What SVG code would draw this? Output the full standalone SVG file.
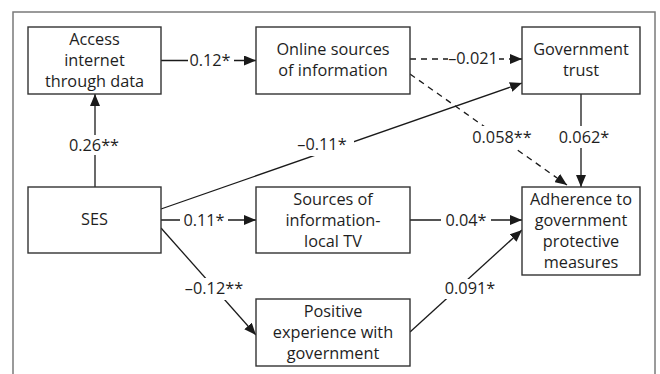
<svg xmlns="http://www.w3.org/2000/svg" width="660" height="374" viewBox="0 0 660 374">
  <defs>
    <marker id="arrow" viewBox="0 0 12 10" refX="12" refY="5" markerWidth="12" markerHeight="10" markerUnits="userSpaceOnUse" orient="auto">
      <path d="M0,0 L12,5 L0,10 Z" fill="#1a1a1a"/>
    </marker>
    <style>
      .frame { fill: #ffffff; stroke: #7a7a7a; stroke-width: 1.5; }
      .box { fill: #ffffff; stroke: #333333; stroke-width: 1.4; }
      .label { font-family: "Open Sans", "Liberation Sans", sans-serif; font-size: 16.3px; fill: #1e1e1e; text-anchor: middle; }
      .edge { fill: none; stroke: #1a1a1a; stroke-width: 1.3; }
      .dash { stroke-dasharray: 6 5; }
      .coef { font-family: "Open Sans", "Liberation Sans", sans-serif; font-size: 16.3px; fill: #1e1e1e; text-anchor: middle; }
      .gap { fill: #ffffff; }
    </style>
  </defs>

  <rect width="660" height="374" fill="#ffffff"/>
  <rect class="frame" x="13" y="12" width="642" height="380"/>

  <g id="connectors">
    <!-- SES -> Access internet -->
    <line class="edge" x1="95" y1="187" x2="95" y2="94" marker-end="url(#arrow)"/>
    <rect class="gap" x="65" y="135" width="58" height="20"/>
    <text class="coef" x="94" y="151">0.26**</text>

    <!-- Access internet -> Online sources -->
    <line class="edge" x1="161" y1="60.5" x2="256" y2="60.5" marker-end="url(#arrow)"/>
    <rect class="gap" x="188" y="50" width="46" height="20"/>
    <text class="coef" x="210" y="66">0.12*</text>

    <!-- Online sources -> Government trust (dashed) -->
    <line class="edge dash" x1="410" y1="59" x2="522" y2="59" marker-end="url(#arrow)"/>
    <rect class="gap" x="448" y="48" width="51" height="20"/>
    <text class="coef" x="473" y="64">–0.021</text>

    <!-- Online sources -> Adherence (dashed) -->
    <line class="edge dash" x1="410" y1="74" x2="567" y2="185" marker-end="url(#arrow)"/>
    <rect class="gap" x="469" y="126" width="66" height="22"/>
    <text class="coef" x="502" y="143">0.058**</text>

    <!-- SES -> Government trust -->
    <line class="edge" x1="161" y1="209" x2="522" y2="83" marker-end="url(#arrow)"/>
    <rect class="gap" x="292" y="134" width="62" height="22"/>
    <text class="coef" x="322" y="150">–0.11*</text>

    <!-- Government trust -> Adherence -->
    <line class="edge" x1="581" y1="94" x2="581" y2="187" marker-end="url(#arrow)"/>
    <rect class="gap" x="555" y="126" width="58" height="22"/>
    <text class="coef" x="584" y="143">0.062*</text>

    <!-- SES -> Sources of information-local TV -->
    <line class="edge" x1="161" y1="220" x2="256" y2="220" marker-end="url(#arrow)"/>
    <rect class="gap" x="180" y="210" width="48" height="20"/>
    <text class="coef" x="204" y="226">0.11*</text>

    <!-- SES -> Positive experience -->
    <line class="edge" x1="161" y1="228" x2="256" y2="335" marker-end="url(#arrow)"/>
    <rect class="gap" x="181" y="278" width="67" height="22"/>
    <text class="coef" x="214" y="294">–0.12**</text>

    <!-- Sources of information-local TV -> Adherence -->
    <line class="edge" x1="410" y1="220" x2="522" y2="220" marker-end="url(#arrow)"/>
    <rect class="gap" x="441" y="210" width="50" height="20"/>
    <text class="coef" x="466" y="226">0.04*</text>

    <!-- Positive experience -> Adherence -->
    <line class="edge" x1="410" y1="332" x2="522" y2="230" marker-end="url(#arrow)"/>
    <rect class="gap" x="440" y="279" width="60" height="20"/>
    <text class="coef" x="470" y="294">0.091*</text>
  </g>

  <g id="node-access">
    <rect class="box" x="28" y="27" width="133" height="67"/>
    <text class="label" x="94.5" y="45">Access</text>
    <text class="label" x="94.5" y="66">internet</text>
    <text class="label" x="94.5" y="87">through data</text>
  </g>

  <g id="node-online">
    <rect class="box" x="256" y="27" width="154" height="67"/>
    <text class="label" x="333" y="55">Online sources</text>
    <text class="label" x="333" y="76">of information</text>
  </g>

  <g id="node-trust">
    <rect class="box" x="522" y="27" width="118" height="67"/>
    <text class="label" x="581" y="55">Government</text>
    <text class="label" x="581" y="76">trust</text>
  </g>

  <g id="node-ses">
    <rect class="box" x="28" y="187" width="133" height="66"/>
    <text class="label" x="94.5" y="225">SES</text>
  </g>

  <g id="node-localtv">
    <rect class="box" x="256" y="187" width="154" height="66"/>
    <text class="label" x="333" y="205">Sources of</text>
    <text class="label" x="333" y="226">information-</text>
    <text class="label" x="333" y="247">local TV</text>
  </g>

  <g id="node-adherence">
    <rect class="box" x="522" y="187" width="118" height="88"/>
    <text class="label" x="581" y="205">Adherence to</text>
    <text class="label" x="581" y="226">government</text>
    <text class="label" x="581" y="247">protective</text>
    <text class="label" x="581" y="268">measures</text>
  </g>

  <g id="node-positive">
    <rect class="box" x="256" y="299" width="154" height="67"/>
    <text class="label" x="333" y="317">Positive</text>
    <text class="label" x="333" y="338">experience with</text>
    <text class="label" x="333" y="359">government</text>
  </g>
</svg>
